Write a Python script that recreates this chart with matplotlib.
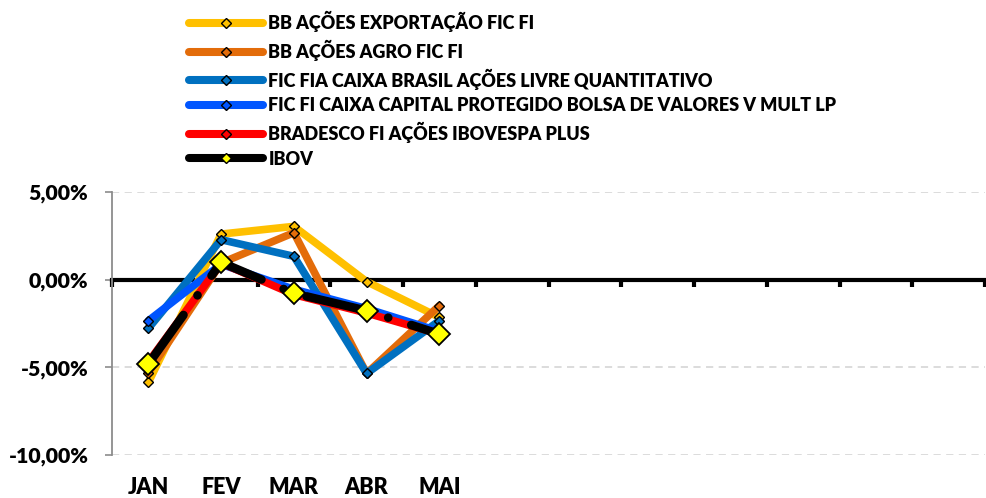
import matplotlib
matplotlib.use("Agg")
import matplotlib.pyplot as plt
from matplotlib.lines import Line2D
from matplotlib.transforms import blended_transform_factory

plt.rcParams['font.family'] = ['Lato', 'DejaVu Sans']
PESO = 800

# categorias (só os 5 primeiros meses têm dados)
meses = ["JAN", "FEV", "MAR", "ABR", "MAI", "", "", "", "", "", "", ""]
n_cat = len(meses)

series_names = [
    "BB AÇÕES EXPORTAÇÃO FIC FI",
    "BB AÇÕES AGRO FIC FI",
    "FIC FIA CAIXA BRASIL AÇÕES LIVRE QUANTITATIVO",
    "FIC FI CAIXA CAPITAL PROTEGIDO BOLSA DE VALORES V MULT LP",
    "BRADESCO FI AÇÕES IBOVESPA PLUS",
    "IBOV",
]

# rentabilidade mensal em %
bb_exportacao = [-5.86, 2.60, 3.04, -0.11, -2.15]
bb_agro = [-5.30, 0.95, 2.68, -5.35, -1.48]
caixa_livre = [-2.78, 2.28, 1.33, -5.35, -2.34]
caixa_protegido = [-2.34, 0.88, -0.55, -1.65, -2.95]
bradesco = [-4.70, 0.95, -0.85, -1.90, -3.10]
ibov = [-4.81, 0.99, -0.78, -1.77, -3.10]

series_vals = [bb_exportacao, bb_agro, caixa_livre, caixa_protegido, bradesco, ibov]
colors = ["#FFC000", "#E36C0A", "#0070C0", "#0055FF", "#FF0000", "#000000"]

fig = plt.figure(figsize=(9.86, 4.98), dpi=100)
ax = fig.add_axes([112 / 986, 43 / 498, 873 / 986, 263 / 498])

handles = []
for i, (name, vals) in enumerate(zip(series_names, series_vals)):
    x = list(range(len(vals)))
    if name == "IBOV":
        ax.plot(x, vals, color=colors[i], lw=6.2, dashes=(7, 2.8, 0.01, 2.8),
                dash_capstyle='round', solid_capstyle='round',
                marker='D', ms=11.5, mfc='#FFFF00', mec='black', mew=1.3,
                zorder=3 + i)
        mfc = '#FFFF00'
    else:
        ax.plot(x, vals, color=colors[i], lw=5.5, solid_capstyle='round',
                marker='D', ms=5.5, mfc=colors[i], mec='black', mew=1.0,
                zorder=3 + i)
        mfc = colors[i]
    handles.append(Line2D([], [], color=colors[i], lw=5.8, solid_capstyle='round',
                          marker='D', ms=4.8, mfc=mfc, mec='black', mew=1.0,
                          label=name))

ax.set_xlim(-0.5, n_cat - 0.5)
ax.set_ylim(-10, 5)
ax.set_yticks([5, 0, -5, -10])
ax.set_yticklabels(["5,00%", "0,00%", "-5,00%", "-10,00%"], fontsize=15.3, fontweight=PESO)
ax.tick_params(axis='y', length=5, width=1.2, color='#8C8C8C', pad=12)

# grade tracejada
for yv in [5, -5, -10]:
    ax.axhline(yv, color='#D9D9D9', lw=1.3, ls=(0, (4, 3)), zorder=1)

for s in ['top', 'right']:
    ax.spines[s].set_visible(False)
ax.spines['left'].set_color('#8C8C8C')
ax.spines['left'].set_linewidth(1.3)
ax.spines['bottom'].set_position(('data', 0))
ax.spines['bottom'].set_linewidth(3)
ax.spines['bottom'].set_color('black')
ax.spines['bottom'].set_zorder(2)

ax.set_xticks([k - 0.5 for k in range(n_cat + 1)])
ax.set_xticklabels([])
ax.tick_params(axis='x', length=5, width=3, color='black', direction='out')

trans = blended_transform_factory(ax.transData, ax.transAxes)
for k, m in enumerate(meses):
    if m:
        ax.text(k, -0.125, m, transform=trans, ha='center', va='center',
                fontsize=15.5, fontweight=PESO)

fig.legend(handles=handles, loc='upper left', bbox_to_anchor=(189 / 986, 1 - 11 / 498),
           frameon=False, handlelength=4.1, handletextpad=0.3,
           labelspacing=0.42, borderaxespad=0, borderpad=0,
           prop={'weight': PESO, 'size': 13})

fig.savefig("out.png", dpi=100)
